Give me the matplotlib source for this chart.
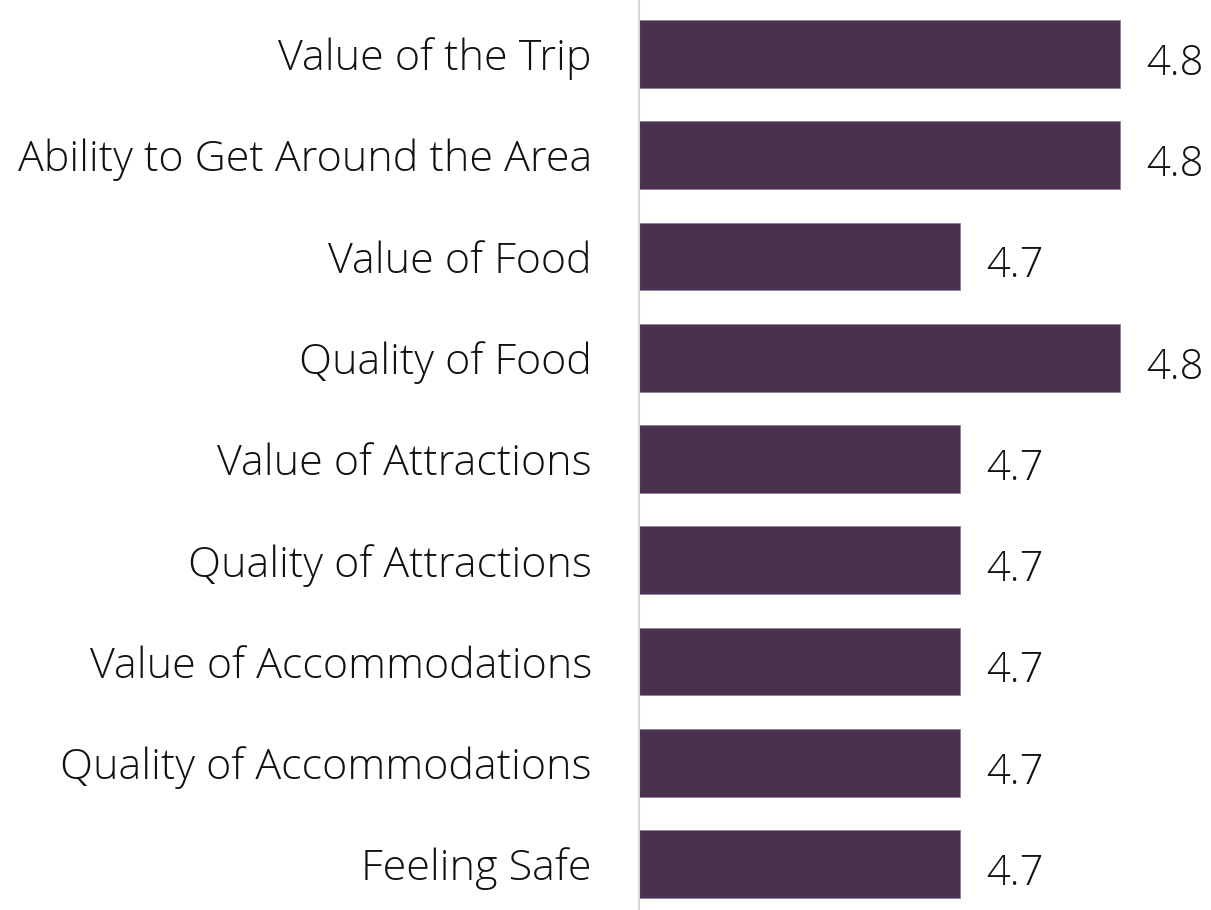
import matplotlib.pyplot as plt

categories = [
    "Value of the Trip",
    "Ability to Get Around the Area",
    "Value of Food",
    "Quality of Food",
    "Value of Attractions",
    "Quality of Attractions",
    "Value of Accommodations",
    "Quality of Accommodations",
    "Feeling Safe",
]
scores = [4.8, 4.8, 4.7, 4.8, 4.7, 4.7, 4.7, 4.7, 4.7]

bar_color = "#4a3150"
plt.rcParams["font.family"] = ["Open Sans", "DejaVu Sans"]

fig = plt.figure(figsize=(12.11, 9.10), dpi=100)
ax = fig.add_axes([639 / 1211, 0, 1 - 639 / 1211, 1])

pos = list(range(len(categories)))
ax.barh(pos, scores, height=0.67, color=bar_color, edgecolor="#8f7d95", linewidth=0.6)

ax.set_xlim(4.5, 4.5 + 572 / 1603)
ax.set_ylim(8.454, -0.533)

# score labels sit just right of each bar, a little below centre
for y, v in zip(pos, scores):
    ax.annotate(f"{v:.1f}", xy=(v, y), xytext=(19, -7), textcoords="offset points",
                ha="left", va="center", fontsize=30, fontweight="light",
                color="#111111", annotation_clip=False)

ax.set_yticks(pos)
ax.set_yticklabels(categories, fontsize=31, fontweight="light", color="#111111")
ax.tick_params(axis="y", length=0, pad=34)
ax.set_xticks([])

for side in ["top", "right", "bottom"]:
    ax.spines[side].set_visible(False)
ax.spines["left"].set_color("#d9d9d9")
ax.spines["left"].set_linewidth(1.5)

fig.savefig("out.png", dpi=100)
